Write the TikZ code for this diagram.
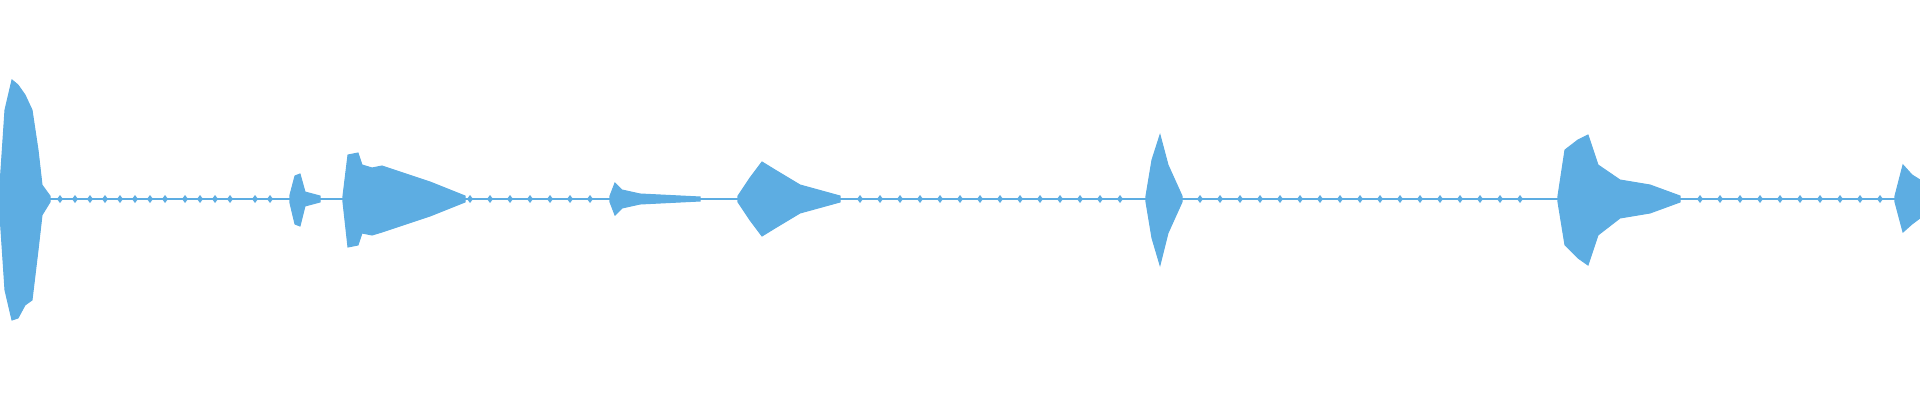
\documentclass[tikz,border=0pt]{standalone}
\definecolor{wave}{RGB}{93,173,226}
\tikzset{burst/.style={fill=wave,draw=wave,line width=.3pt}}
\begin{document}
\begin{tikzpicture}[x=.01cm,y=-.01cm]
  \useasboundingbox (0,0) rectangle (1920,400);

  % centre line
  \draw[wave,line width=.6pt] (0,199) -- (1920,199);

  % small blips along the line
  \foreach \x in {60,75,90,105,120,135,150,165,185,200,215,230,255,270,470,490,510,530,550,570,590,
                  860,880,900,920,940,960,980,1000,1020,1040,1060,1080,1100,1120,1200,1220,1240,1260,1280,
                  1300,1320,1340,1360,1380,1400,1420,1440,1460,1480,1500,1520,1700,1720,1740,1760,1780,
                  1800,1820,1840,1860,1880}
    \fill[wave] (\x-3,199) -- (\x,195) -- (\x+3,199) -- (\x,203) -- cycle;

  % bursts
  \fill[burst] (0,185) -- (5,110) -- (12,80) -- (18,85) -- (25,95) -- (32,110) -- (38,150) -- (42,185) -- (50,196)
    -- (50,202) -- (42,215) -- (38,250) -- (32,300) -- (25,305) -- (18,318) -- (12,320) -- (5,290) -- (0,215) -- cycle;
  \fill[burst] (290,195) -- (295,176) -- (300,174) -- (305,192) -- (320,196) -- (320,202) -- (305,206) -- (300,226) -- (295,224) -- (290,203) -- cycle;
  \fill[burst] (343,196) -- (348,155) -- (358,153) -- (362,165) -- (372,168) -- (382,166) -- (400,172) -- (430,182) -- (465,196)
    -- (465,202) -- (430,216) -- (400,226) -- (382,232) -- (372,235) -- (362,233) -- (358,245) -- (348,247) -- (343,202) -- cycle;
  \fill[burst] (610,196) -- (615,183) -- (622,190) -- (640,194) -- (700,197) -- (700,201) -- (640,204) -- (622,208) -- (615,215) -- (610,202) -- cycle;
  \fill[burst] (738,196) -- (750,178) -- (762,162) -- (775,170) -- (800,185) -- (840,196)
    -- (840,202) -- (800,213) -- (775,228) -- (762,236) -- (750,220) -- (738,202) -- cycle;
  \fill[burst] (1146,196) -- (1152,160) -- (1160,135) -- (1168,165) -- (1182,196)
    -- (1182,202) -- (1168,233) -- (1160,265) -- (1152,238) -- (1146,202) -- cycle;
  \fill[burst] (1558,196) -- (1565,150) -- (1578,140) -- (1588,135) -- (1598,165) -- (1620,180) -- (1650,185) -- (1680,196)
    -- (1680,202) -- (1650,213) -- (1620,218) -- (1598,235) -- (1588,265) -- (1578,258) -- (1565,245) -- (1558,202) -- cycle;
  \fill[burst] (1895,196) -- (1903,165) -- (1912,175) -- (1920,180) -- (1920,218) -- (1912,224) -- (1903,232) -- (1895,202) -- cycle;
\end{tikzpicture}
\end{document}
